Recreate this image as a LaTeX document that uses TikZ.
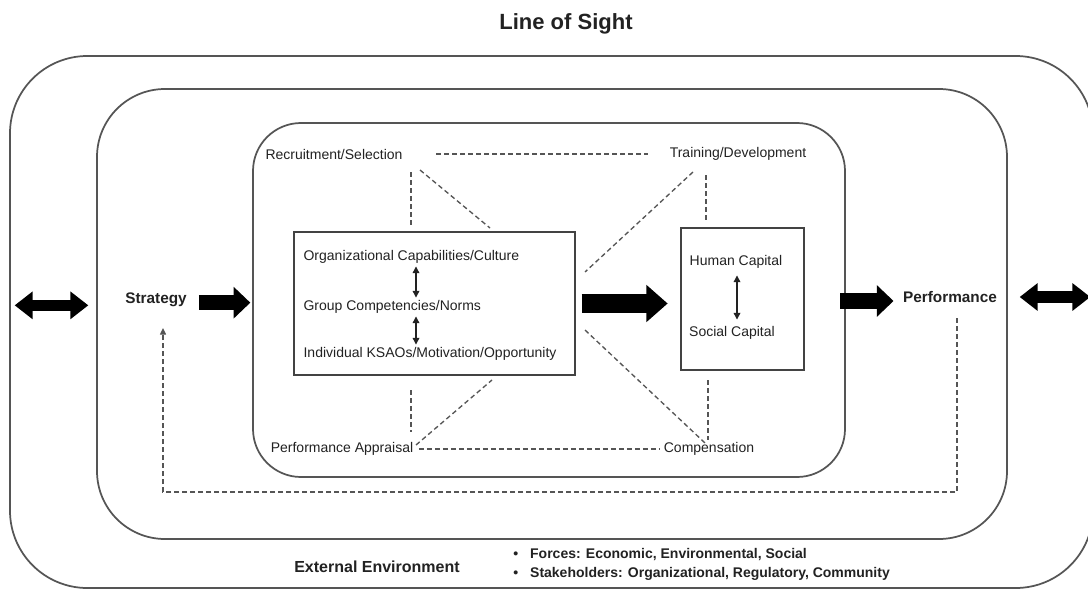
\documentclass[tikz,border=0pt]{standalone}
\usepackage{fontspec}
\setmainfont{Liberation Sans}
\usetikzlibrary{arrows.meta,fit}
\definecolor{edge}{HTML}{555555}
\definecolor{ink}{HTML}{222222}
\begin{document}
\begin{tikzpicture}[x=0.75pt,y=-0.75pt,
  container/.style={draw=edge, line width=1.3pt, inner sep=0pt, outer sep=0pt, rounded corners=#1},
  plainbox/.style={draw=ink!85, line width=1.2pt, inner sep=0pt, outer sep=0pt},
  lbl/.style={text=ink, font=\fontsize{10.5}{12}\selectfont, inner sep=1pt},
  boldlbl/.style={text=ink, font=\bfseries\fontsize{11.5}{13}\selectfont, inner sep=1pt},
  hrlink/.style={draw=edge, line width=1pt, dash pattern=on 3.6pt off 2.4pt},
  smallarr/.style={draw=ink, line width=0.9pt, {Triangle[length=5pt,width=5pt]}-{Triangle[length=5pt,width=5pt]}},
  blockarr/.style n args={3}{draw=black, line width=#1, -{Triangle[length=#2,width=#3]}},
  dblarr/.style n args={3}{draw=black, line width=#1, {Triangle[length=#2,width=#3]}-{Triangle[length=#2,width=#3]}},
  fbline/.style={draw=edge, line width=1pt, dash pattern=on 3.6pt off 2.4pt, -{Triangle[length=5pt,width=4.5pt]}}
]
\useasboundingbox (0,0) rectangle (1088,589);
\fill[white] (0,0) rectangle (1088,589);

% title
\node[text=ink, font=\bfseries\fontsize{16.5}{19}\selectfont] (title) at (566,24) {Line of Sight};

% containers
\coordinate (o1) at (10,56);  \coordinate (o2) at (1093,588);
\node[container=58pt, fit=(o1)(o2)] (outer) {};
\coordinate (s1) at (97,89);  \coordinate (s2) at (1007,539);
\node[container=51pt, fit=(s1)(s2)] (second) {};
\coordinate (i1) at (253,123); \coordinate (i2) at (845,477);
\node[container=36pt, fit=(i1)(i2)] (inner) {};
\coordinate (c1) at (294,232); \coordinate (c2) at (575,375);
\node[plainbox, fit=(c1)(c2)] (capbox) {};
\coordinate (h1) at (681,228); \coordinate (h2) at (804,370);
\node[plainbox, fit=(h1)(h2)] (hcbox) {};

% labels
\node[boldlbl] (strat) at (156,300) {Strategy};
\node[boldlbl] (perf) at (950,297) {Performance};
\node[lbl] (rs) at (334,154) {Recruitment/Selection};
\node[lbl] (td) at (738,154) {Training/Development};
\node[lbl] (pa) at (342,449) {Performance Appraisal};
\node[lbl] (comp) at (709,449) {Compensation};
\node[lbl, anchor=west] (org) at (302,257) {Organizational Capabilities/Culture};
\node[lbl, anchor=west] (grp) at (302,307) {Group Competencies/Norms};
\node[lbl, anchor=west] (ind) at (302,354) {Individual KSAOs/Motivation/Opportunity};
\node[lbl] (hc) at (736,262) {Human Capital};
\node[lbl] (sc) at (732,333) {Social Capital};

% small double arrows
\coordinate (ax) at (416,0);
\coordinate (ax2) at (737,0);
\draw[smallarr, shorten <=1pt, shorten >=1pt] (org.south -| ax) -- (grp.north -| ax);
\draw[smallarr, shorten <=1pt, shorten >=1pt] (grp.south -| ax) -- (ind.north -| ax);
\draw[smallarr, shorten <=4pt, shorten >=4pt] (hc.south -| ax2) -- (sc.north -| ax2);

% HR practice links
\draw[hrlink, shorten <=24pt, shorten >=15pt] (rs) -- (td);
\draw[hrlink, shorten <=3pt, shorten >=1.5pt] (pa) -- (comp);
\coordinate (rsA) at (411,172); \coordinate (rsB) at (411,226);
\coordinate (rsC) at (420,170); \coordinate (rsD) at (490,228);
\coordinate (tdA) at (693,172); \coordinate (tdB) at (585,272);
\coordinate (tdC) at (706,175); \coordinate (tdD) at (706,222);
\coordinate (paA) at (411,390); \coordinate (paB) at (411,432);
\coordinate (paC) at (416,445); \coordinate (paD) at (492,380);
\coordinate (cmA) at (585,330); \coordinate (cmB) at (705,443);
\coordinate (cmC) at (708,380); \coordinate (cmD) at (708,440);
\draw[hrlink] (rsA) -- (rsB);
\draw[hrlink] (rsC) -- (rsD);
\draw[hrlink] (tdA) -- (tdB);
\draw[hrlink] (tdC) -- (tdD);
\draw[hrlink] (paA) -- (paB);
\draw[hrlink] (paC) -- (paD);
\draw[hrlink] (cmA) -- (cmB);
\draw[hrlink] (cmC) -- (cmD);

% block arrows
\draw[blockarr={11.5pt}{12.5pt}{23pt}, shorten <=8pt, shorten >=2pt] ([yshift=-2pt]strat.east) -- ([yshift=-2pt]inner.west |- strat.east);
\draw[blockarr={14pt}{16pt}{27pt}, shorten <=5pt, shorten >=10pt] (capbox.east) -- (capbox.east -| hcbox.west);
\draw[blockarr={11.5pt}{12.5pt}{23pt}, shorten <=27pt, shorten >=6pt] ([yshift=-3pt]hcbox.east |- perf.west) -- ([yshift=-3pt]perf.west);
\draw[dblarr={8.5pt}{13.5pt}{20pt}, shorten <=3.5pt, shorten >=6.5pt] ([yshift=-4pt]outer.west |- strat) -- ([yshift=-4pt]second.west |- strat);
\draw[dblarr={8.5pt}{13.5pt}{20pt}, shorten <=9.5pt, shorten >=2pt] (second.east |- perf) -- (outer.east |- perf);

% feedback loop
\coordinate (fbR) at (957,318);
\coordinate (fbB) at (0,492);
\coordinate (fbL) at (163,328);
\draw[fbline] (fbR) -- (fbR |- fbB) -- (fbL |- fbB) -- (fbL);

% external environment
\node[text=ink, font=\bfseries\fontsize{12}{14}\selectfont] (ext) at (377,567) {External Environment};
\node[anchor=west, text=ink, font=\bfseries\fontsize{10.5}{14.5}\selectfont, inner sep=0pt] (envlist) at (513,564)
  {\begin{tabular}{@{}l@{\hspace{9pt}}l@{}}\textbullet & Forces: Economic, Environmental, Social\\ \textbullet & Stakeholders: Organizational, Regulatory, Community\end{tabular}};
\end{tikzpicture}
\end{document}
